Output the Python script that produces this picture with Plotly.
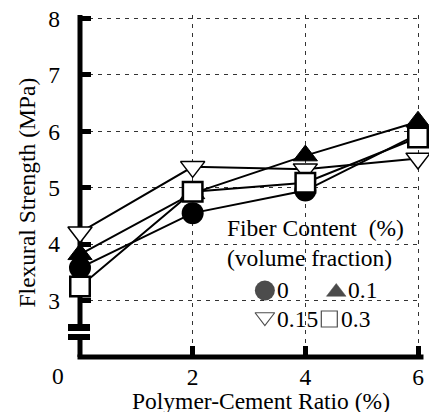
import plotly.graph_objects as go

# ---- data ----
ratio = [0, 2, 4, 6]                      # Polymer-Cement Ratio (%)
fiber_0 = [3.58, 4.55, 4.95, 5.95]        # fiber content 0 %
fiber_01 = [3.82, 4.90, 5.57, 6.17]       # fiber content 0.1 %
fiber_015 = [4.21, 5.37, 5.33, 5.52]      # fiber content 0.15 %
fiber_03 = [3.25, 4.93, 5.09, 5.89]       # fiber content 0.3 %
fiber_labels = ["0", "0.1", "0.15", "0.3"]
x_ticks = [2, 4, 6]
y_ticks = [3, 4, 5, 6, 7, 8]

FONT = "Liberation Serif"
FS = 23.5
WIDTH, HEIGHT = 429, 412
L, R, T, B = 80, 5, 15, 55
PW = WIDTH - L - R
PH = HEIGHT - T - B
XR = [0, 6.053]
YR = [2, 8.062]


def pxx(px):
    return (px - L) / PW


def pxy(py):
    return (HEIGHT - B - py) / PH


series = [
    (fiber_0, dict(symbol="circle", size=22, color="black", line=dict(width=0))),
    (fiber_015, dict(symbol="triangle-down", size=21, color="white",
                     line=dict(width=1.5, color="black"))),
    (fiber_01, dict(symbol="triangle-up", size=21, color="black",
                    line=dict(width=1, color="black"))),
    (fiber_03, dict(symbol="square", size=19.5, color="white",
                    line=dict(width=2.5, color="black"))),
]

fig = go.Figure()
for ys, _ in series:
    fig.add_trace(go.Scatter(x=ratio, y=ys, mode="lines",
                             line=dict(color="black", width=2),
                             showlegend=False, cliponaxis=False,
                             hoverinfo="skip"))
for ys, mk in series:
    fig.add_trace(go.Scatter(x=ratio, y=ys, mode="markers", marker=mk,
                             showlegend=False, cliponaxis=False))

# legend keys (drawn on a pixel-unit overlay axis)
key_x = [266.5, 338.5, 266.5, 331.5]
key_y = [290.5, 292, 317, 319]
fig.add_trace(go.Scatter(
    x=key_x, y=key_y, xaxis="x2", yaxis="y2", mode="markers",
    marker=dict(symbol=["circle", "triangle-up", "triangle-down-open", "square-open"],
                size=[20, 17, 17, 16], color="black",
                line=dict(width=[0, 0.5, 1.2, 1.2], color="black")),
    showlegend=False, cliponaxis=False, hoverinfo="skip"))

grid = dict(showgrid=True, gridcolor="#333", gridwidth=1, griddash="4px,5px",
            zeroline=False, showline=False, ticks="inside", ticklen=11,
            tickwidth=5, tickcolor="black",
            tickfont=dict(family=FONT, size=FS, color="black"))

fig.update_xaxes(range=XR, tickvals=x_ticks, ticktext=[str(v) for v in x_ticks],
                 ticklabelstandoff=3, **grid)
fig.update_yaxes(range=YR, tickvals=y_ticks, ticktext=[str(v) for v in y_ticks],
                 ticklabelstandoff=19, **grid)

shapes = []
# y axis line
shapes.append(dict(type="rect", xref="paper", yref="paper", xsizemode="pixel",
                   xanchor=0, x0=-2.5, x1=2.5, y0=0, y1=1,
                   fillcolor="black", line=dict(width=0), layer="between"))
# x axis line
x6 = 6 / XR[1] * PW
shapes.append(dict(type="rect", xref="paper", yref="paper", xsizemode="pixel",
                   ysizemode="pixel", xanchor=0, yanchor=0, x0=-2.5, x1=x6 + 2.5,
                   y0=-2.5, y1=2.5, fillcolor="black", line=dict(width=0),
                   layer="between"))
# axis break
shapes.append(dict(type="rect", xref="paper", yref="paper", xsizemode="pixel",
                   xanchor=0, x0=-4, x1=4, y0=pxy(334), y1=pxy(331),
                   fillcolor="white", line=dict(width=0), layer="between"))
for top, bot in [(324, 331), (334, 340)]:
    shapes.append(dict(type="rect", xref="paper", yref="paper", xsizemode="pixel",
                       xanchor=0, x0=-12, x1=10, y0=pxy(bot), y1=pxy(top),
                       fillcolor="black", line=dict(width=0), layer="between"))
# legend background
shapes.append(dict(type="rect", xref="paper", yref="paper",
                   x0=pxx(222), x1=pxx(416), y0=pxy(336), y1=pxy(213),
                   fillcolor="white", line=dict(width=0), layer="between"))

ann = []


def text(s, x, y, size=FS, xanchor="center", angle=0):
    ann.append(dict(text=s, x=pxx(x), y=pxy(y), xref="paper", yref="paper",
                    xanchor=xanchor, yanchor="middle", showarrow=False,
                    textangle=angle, font=dict(family=FONT, size=size, color="black")))


text("Polymer-Cement Ratio (%)", 263, 401)
text("Flexural Strength\u00a0(MPa)", 27, 192, angle=-90)
text("0", 58, 376)
text("Fiber Content\u00a0\u00a0(%)", 226, 228, xanchor="left")
text("(volume fraction)", 226, 258, xanchor="left")
text(fiber_labels[0], 277, 290, xanchor="left")
text(fiber_labels[1], 348, 290, xanchor="left")
text(fiber_labels[2], 277, 319, xanchor="left")
text(fiber_labels[3], 341, 319, xanchor="left")

fig.update_layout(width=WIDTH, height=HEIGHT,
                  margin=dict(l=L, r=R, t=T, b=B, pad=0),
                  paper_bgcolor="white", plot_bgcolor="white",
                  xaxis2=dict(overlaying="x", anchor="y2", range=[L, L + PW],
                              visible=False),
                  yaxis2=dict(overlaying="y", anchor="x2", range=[HEIGHT - B, T],
                              visible=False),
                  shapes=shapes, annotations=ann, showlegend=False)

fig.write_html("out.html")
